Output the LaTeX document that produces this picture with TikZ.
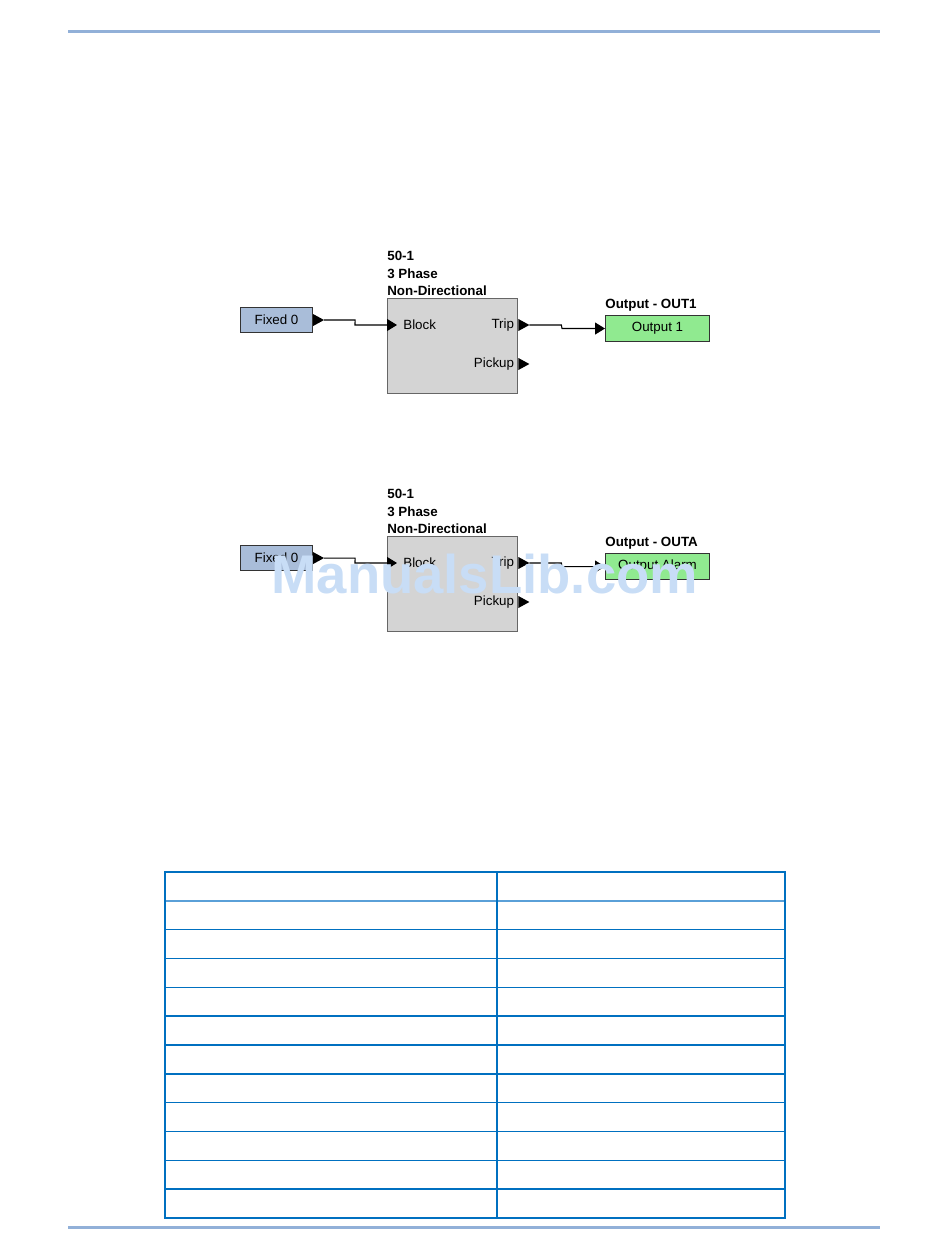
\documentclass[tikz,border=0pt]{standalone}
\usepackage{fontspec}
\setmainfont{Liberation Sans}
\usetikzlibrary{
    arrows.meta,
    positioning,
    calc
}
\definecolor{rulebl}{RGB}{146,176,216}
\definecolor{tablebl}{RGB}{0,112,192}
\definecolor{headbl}{RGB}{90,160,216}
\definecolor{fixfill}{RGB}{169,189,217}
\definecolor{blkfill}{RGB}{212,212,212}
\definecolor{outfill}{RGB}{144,234,144}
\definecolor{wmark}{RGB}{200,221,246}
\newcommand{\lblfont}{\fontsize{7.6}{10}\selectfont}
\newcommand{\outport}[1]{\fill (#1) -- ++(0,-6) -- ++(11,6) -- ++(-11,6) -- cycle;}
\tikzset{
    fixbox/.style={
        draw=black!80,
        rectangle,
        minimum width=1.44cm,
        minimum height=0.5cm,
        line width=0.6pt,
        fill=fixfill,
        inner sep=0pt,
        font=\lblfont
    },
    blkbox/.style={
        draw=black!60,
        rectangle,
        minimum width=2.6cm,
        minimum height=1.9cm,
        line width=0.8pt,
        fill=blkfill,
        inner sep=0pt
    },
    outbox/.style={
        draw=black!80,
        rectangle,
        minimum width=2.08cm,
        minimum height=0.52cm,
        line width=0.6pt,
        fill=outfill,
        inner sep=0pt,
        font=\lblfont
    },
    lab/.style={
        font=\lblfont,
        inner sep=0pt
    },
    ttl/.style={
        font=\lblfont\bfseries,
        align=left,
        inner sep=0pt
    },
    wire/.style={
        -{Triangle[length=0.2cm,width=0.24cm]},
        line width=0.6pt
    }
}

\begin{document}
\begin{tikzpicture}[x=0.02cm, y=-0.02cm]
\useasboundingbox (0,0) rectangle (950,1260);

% page rules
\draw[rulebl, line width=0.06cm] (68,32) -- (880,32);
\draw[rulebl, line width=0.06cm] (68,1227) -- (880,1227);

% first logic diagram
\node[fixbox, anchor=north west] (fix1) at (240,307) {Fixed 0};
\node[blkbox, anchor=north west] (blk1) at (387,298) {};
\node[ttl, anchor=south west, yshift=1pt] (ttl1) at (blk1.north west) {50-1\\3 Phase\\Non-Directional};
\node[outbox, anchor=north west] (out1) at (605,315) {Output 1};
\node[ttl, anchor=south west, yshift=2pt] (otl1) at (out1.north west) {Output - OUT1};

\coordinate (fix1o) at ($(fix1.east)+(11,0)$);
\coordinate (blk1in) at ($(blk1.north west)+(10,27)$);
\coordinate (blk1trip) at ($(blk1.north east)+(0,27)$);
\coordinate (blk1pick) at ($(blk1.north east)+(0,66)$);
\coordinate (trip1o) at ($(blk1trip)+(11,0)$);

\node[lab, anchor=west] (bl1) at ($(blk1in)+(6,0)$) {Block};
\node[lab, anchor=east] (tr1) at ($(blk1trip)+(-4,0)$) {Trip};
\node[lab, anchor=east] (pk1) at ($(blk1pick)+(-4,0)$) {Pickup};

\outport{fix1.east}
\outport{blk1trip}
\outport{blk1pick}

\draw[wire] (fix1o) -- ++(31,0) -- ($(blk1in)+(-42,0)$) -- (blk1in);
\draw[wire] (trip1o) -- ++(32,0) -- ($(out1.west)+(-43,0)$) -- (out1.west);

% second logic diagram
\node[fixbox, anchor=north west] (fix2) at (240,545) {Fixed 0};
\node[blkbox, anchor=north west] (blk2) at (387,536) {};
\node[ttl, anchor=south west, yshift=1pt] (ttl2) at (blk2.north west) {50-1\\3 Phase\\Non-Directional};
\node[outbox, anchor=north west] (out2) at (605,553) {Output Alarm};
\node[ttl, anchor=south west, yshift=2pt] (otl2) at (out2.north west) {Output - OUTA};

\coordinate (fix2o) at ($(fix2.east)+(11,0)$);
\coordinate (blk2in) at ($(blk2.north west)+(10,27)$);
\coordinate (blk2trip) at ($(blk2.north east)+(0,27)$);
\coordinate (blk2pick) at ($(blk2.north east)+(0,66)$);
\coordinate (trip2o) at ($(blk2trip)+(11,0)$);

\node[lab, anchor=west] (bl2) at ($(blk2in)+(6,0)$) {Block};
\node[lab, anchor=east] (tr2) at ($(blk2trip)+(-4,0)$) {Trip};
\node[lab, anchor=east] (pk2) at ($(blk2pick)+(-4,0)$) {Pickup};

\outport{fix2.east}
\outport{blk2trip}
\outport{blk2pick}

\draw[wire] (fix2o) -- ++(31,0) -- ($(blk2in)+(-42,0)$) -- (blk2in);
\draw[wire] (trip2o) -- ++(32,0) -- ($(out2.west)+(-43,0)$) -- (out2.west);

% empty table
\foreach \r in {2,...,11}
    \draw[tablebl, line width=0.03cm] (165,872+\r*28.83) -- (785,872+\r*28.83);
\draw[headbl, line width=0.05cm] (165,901) -- (785,901);
\draw[tablebl, line width=0.03cm] (497,872) -- (497,1218);
\draw[tablebl, line width=0.03cm] (165,872) rectangle (785,1218);

% watermark
\node[font=\fontsize{31}{31}\selectfont\bfseries, text=wmark, anchor=base west, inner sep=0pt] (wm) at (271,593) {ManualsLib.com};

\end{tikzpicture}
\end{document}
